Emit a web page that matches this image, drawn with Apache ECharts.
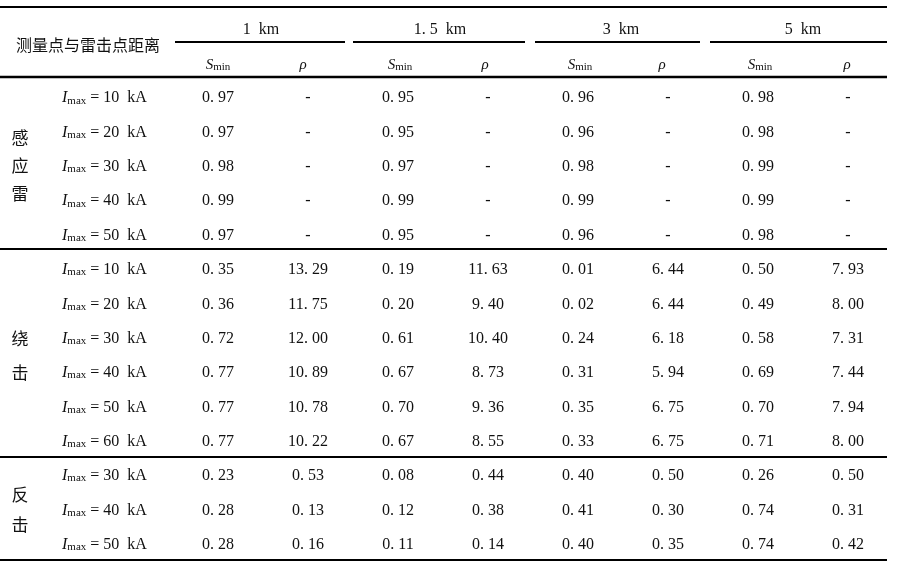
<!DOCTYPE html>
<html>
<head>
<meta charset="utf-8">
<script src="https://cdn.jsdelivr.net/npm/echarts@6/dist/echarts.min.js"></script>
<style>html,body{margin:0;padding:0;background:#fff}#main{width:897px;height:565px}</style>
</head>
<body>
<div id="main"></div>
<script>
// 表格数据
var distances = ['1 km', '1.5 km', '3 km', '5 km'];
var columns = ['1km_S', '1km_p', '1.5km_S', '1.5km_p', '3km_S', '3km_p', '5km_S', '5km_p'];
var currents = [10, 20, 30, 40, 50, 10, 20, 30, 40, 50, 60, 30, 40, 50];
var groups = [['感', '应', '雷'], ['绕', '击'], ['反', '击']];
var values = [
	['0.97', '-', '0.95', '-', '0.96', '-', '0.98', '-'],
	['0.97', '-', '0.95', '-', '0.96', '-', '0.98', '-'],
	['0.98', '-', '0.97', '-', '0.98', '-', '0.99', '-'],
	['0.99', '-', '0.99', '-', '0.99', '-', '0.99', '-'],
	['0.97', '-', '0.95', '-', '0.96', '-', '0.98', '-'],
	['0.35', '13.29', '0.19', '11.63', '0.01', '6.44', '0.50', '7.93'],
	['0.36', '11.75', '0.20', '9.40', '0.02', '6.44', '0.49', '8.00'],
	['0.72', '12.00', '0.61', '10.40', '0.24', '6.18', '0.58', '7.31'],
	['0.77', '10.89', '0.67', '8.73', '0.31', '5.94', '0.69', '7.44'],
	['0.77', '10.78', '0.70', '9.36', '0.35', '6.75', '0.70', '7.94'],
	['0.77', '10.22', '0.67', '8.55', '0.33', '6.75', '0.71', '8.00'],
	['0.23', '0.53', '0.08', '0.44', '0.40', '0.50', '0.26', '0.50'],
	['0.28', '0.13', '0.12', '0.38', '0.41', '0.30', '0.74', '0.31'],
	['0.28', '0.16', '0.11', '0.14', '0.40', '0.35', '0.74', '0.42']
];

var rows = currents.map(function (c, i) { return 'r' + i; });
// 原图小数点后带空隙
function spaced(s) {
	return s.replace('.', '. ');
}
var cells = [];
for (var i = 0; i < values.length; i++) {
	for (var j = 0; j < columns.length; j++) {
		cells.push({ value: [columns[j], rows[i]], label: { formatter: spaced(values[i][j]) } });
	}
}

var serif = '"Liberation Serif","DejaVu Serif",serif';
var cjk = '"Noto Sans CJK SC",sans-serif';
var txtColor = '#111';

function hline(x1, x2, y, w) {
	return { type: 'line', shape: { x1: x1, y1: y, x2: x2, y2: y }, style: { stroke: '#000', lineWidth: w } };
}
function text(x, y, s, font, size) {
	return { type: 'text', x: x, y: y, style: { text: s, fill: txtColor, font: size + 'px ' + font, textAlign: 'center', textVerticalAlign: 'middle' } };
}

var graphics = [
	hline(0, 887, 7, 2), hline(0, 887, 77, 2.5), hline(0, 887, 249, 2), hline(0, 887, 457, 2), hline(0, 887, 560, 2),
	hline(175, 345, 42, 2), hline(353, 525, 42, 2), hline(535, 700, 42, 2), hline(710, 887, 42, 2),
	text(88, 45, '测量点与雷击点距离', cjk, 16)
];
var groupX = [261, 440, 621, 803];
distances.forEach(function (d, k) {
	graphics.push(text(groupX[k], 30, d.replace('.', '. ').replace(' km', '  km'), serif, 16));
});
var subX = [218, 303, 400, 485, 580, 662, 760, 847];
subX.forEach(function (x, k) {
	if (k % 2 === 0) {
		graphics.push({ type: 'text', x: x, y: 65, style: { text: '{s|S}{m|min}', textAlign: 'center', textVerticalAlign: 'middle',
			rich: { s: { fontFamily: serif, fontStyle: 'italic', fontSize: 15, fill: txtColor }, m: { fontFamily: serif, fontSize: 11, fill: txtColor, padding: [5, 0, 0, 0] } } } });
	} else {
		graphics.push({ type: 'text', x: x, y: 65, style: { text: 'ρ', fill: txtColor, font: 'italic 15px ' + serif, textAlign: 'center', textVerticalAlign: 'middle' } });
	}
});
var groupY = [[138, 166, 194], [339, 373], [495, 525]];
groups.forEach(function (g, k) {
	g.forEach(function (ch, m) { graphics.push(text(20, groupY[k][m], ch, cjk, 17)); });
});

var myChart = echarts.init(document.getElementById('main'));
var option = {
	backgroundColor: '#fff',
	animation: false,
	grid: { left: 173, right: 4, top: 81, bottom: 3 },
	xAxis: { type: 'category', data: columns, show: false },
	yAxis: {
		type: 'category', data: rows, inverse: true,
		axisLine: { show: false }, axisTick: { show: false }, splitLine: { show: false },
		axisLabel: {
			align: 'left', margin: 111,
			formatter: function (v) {
				var idx = rows.indexOf(v);
				return '{i|I}{m|max}{t| = ' + currents[idx] + '  kA}';
			},
			rich: {
				i: { fontFamily: serif, fontStyle: 'italic', fontSize: 16, color: txtColor },
				m: { fontFamily: serif, fontSize: 11, color: txtColor, padding: [5, 0, 0, 0] },
				t: { fontFamily: serif, fontSize: 16, color: txtColor }
			}
		}
	},
	series: [{
		type: 'scatter',
		symbolSize: 0,
		itemStyle: { opacity: 1 },
		data: cells,
		label: { show: true, position: 'inside', fontFamily: serif, fontSize: 16, color: txtColor }
	}],
	graphic: graphics
};
myChart.setOption(option);
</script>
</body>
</html>
